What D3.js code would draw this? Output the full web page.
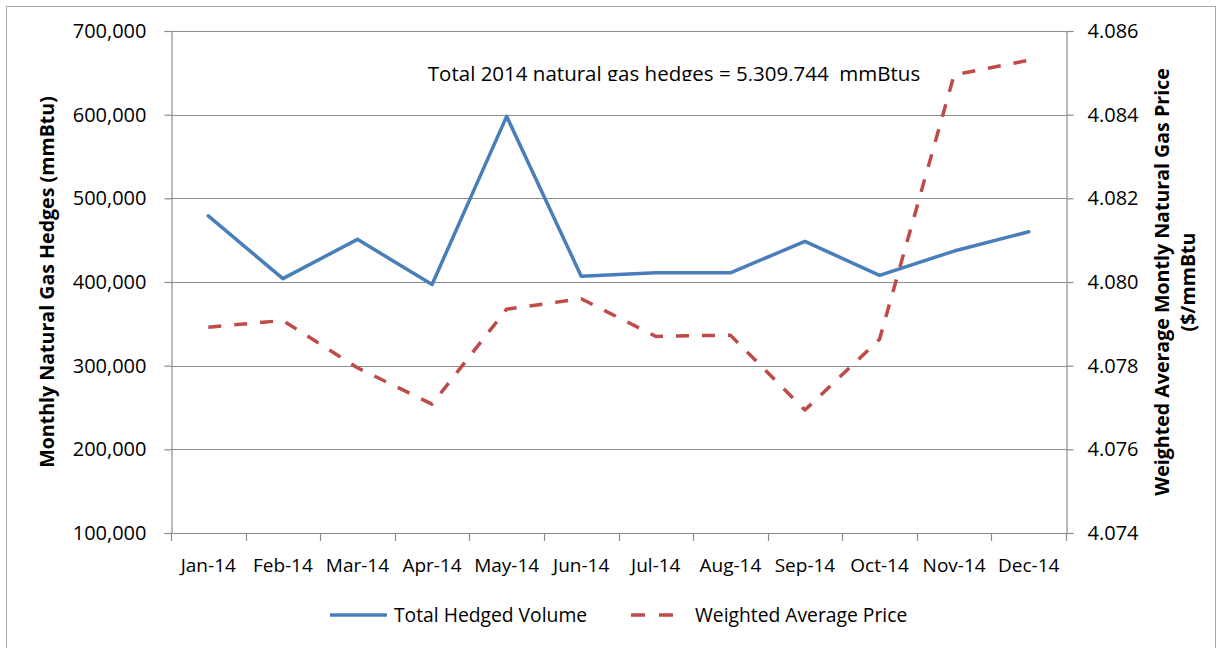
<!DOCTYPE html>
<html>
<head>
<meta charset="utf-8">
<script src="https://cdn.jsdelivr.net/npm/d3@7"></script>
<style>
  html, body { margin: 0; padding: 0; background: #fff; }
  svg { display: block; }
  text { font-family: "Open Sans", "Noto Sans", sans-serif; fill: #000; }
</style>
</head>
<body>
<svg id="chart" width="1225" height="648"></svg>
<script>
// ---- data ----
const months = ["Jan-14","Feb-14","Mar-14","Apr-14","May-14","Jun-14","Jul-14","Aug-14","Sep-14","Oct-14","Nov-14","Dec-14"];
const hedgedVolume = [479000, 404000, 451000, 397000, 598000, 407000, 411000, 411000, 448500, 408000, 437000, 460000];
const avgPrice = [4.07892, 4.07908, 4.07795, 4.07708, 4.07935, 4.07960, 4.07870, 4.07873, 4.07694, 4.07863, 4.08495, 4.08530];
const leftTicks = [100000, 200000, 300000, 400000, 500000, 600000, 700000];
const rightTicks = [4.074, 4.076, 4.078, 4.080, 4.082, 4.084, 4.086];
const seriesNames = ["Total Hedged Volume", "Weighted Average Price"];
const annotation = "Total 2014 natural gas hedges = 5,309,744  mmBtus";
const leftTitle = "Monthly Natural Gas Hedges (mmBtu)";
const rightTitleLines = ["Weighted Average Montly Natural Gas Price", "($/mmBtu"];

// ---- layout ----
const svg = d3.select("#chart");
const plot = { left: 171, right: 1066, top: 31, bottom: 533 };
const gridColor = "#8c8c8c";
const blue = "#4a7ebb";
const red = "#be4b48";

// outer border
svg.append("rect").attr("x", 6.5).attr("y", 6.5).attr("width", 1209).attr("height", 645)
  .attr("fill", "none").attr("stroke", "#a6a6a6").attr("stroke-width", 1);

const x = d3.scaleBand().domain(months).range([plot.left, plot.right]).padding(0);
const yL = d3.scaleLinear().domain([100000, 700000]).range([plot.bottom, plot.top]);
const yR = d3.scaleLinear().domain([4.074, 4.086]).range([plot.bottom, plot.top]);
const cx = m => x(m) + x.bandwidth() / 2;

// gridlines
svg.append("g").selectAll("line").data(leftTicks).join("line")
  .attr("x1", plot.left).attr("x2", plot.right)
  .attr("y1", d => Math.round(yL(d)) + 0.5).attr("y2", d => Math.round(yL(d)) + 0.5)
  .attr("stroke", gridColor).attr("stroke-width", 1.2);

// left axis
const gL = svg.append("g").attr("transform", `translate(${plot.left + 0.5},0)`)
  .call(d3.axisLeft(yL).tickValues(leftTicks).tickFormat(d3.format(",")).tickSize(7).tickPadding(18));
gL.select(".domain").attr("stroke", gridColor).attr("stroke-width", 1.2);
gL.selectAll(".tick line").attr("stroke", gridColor).attr("stroke-width", 1.2);
gL.selectAll(".tick text").attr("font-size", 20).attr("font-family", "Open Sans").attr("fill", "#000");

// right axis
const gR = svg.append("g").attr("transform", `translate(${plot.right + 0.5},0)`)
  .call(d3.axisRight(yR).tickValues(rightTicks).tickFormat(d3.format(".3f")).tickSize(7).tickPadding(14));
gR.select(".domain").attr("stroke", gridColor).attr("stroke-width", 1.2);
gR.selectAll(".tick line").attr("stroke", gridColor).attr("stroke-width", 1.2);
gR.selectAll(".tick text").attr("font-size", 20).attr("font-family", "Open Sans").attr("fill", "#000");

// bottom axis (ticks at category boundaries)
const gB = svg.append("g").attr("transform", `translate(0,${plot.bottom + 0.5})`)
  .call(d3.axisBottom(x).tickSize(0).tickPadding(25));
gB.select(".domain").remove();
gB.selectAll(".tick text").attr("font-size", 19).attr("font-family", "Open Sans").attr("fill", "#000");
svg.append("line").attr("x1", plot.left).attr("x2", plot.right + 1)
  .attr("y1", plot.bottom + 0.5).attr("y2", plot.bottom + 0.5)
  .attr("stroke", gridColor).attr("stroke-width", 1.2);
const edges = months.map(m => x(m)).concat([x(months[months.length - 1]) + x.bandwidth()]);
svg.append("g").selectAll("line").data(edges).join("line")
  .attr("x1", d => Math.round(d) + 0.5).attr("x2", d => Math.round(d) + 0.5)
  .attr("y1", plot.bottom).attr("y2", plot.bottom + 8)
  .attr("stroke", gridColor).attr("stroke-width", 1.2);

// series lines
const lineL = d3.line().x((d, i) => cx(months[i])).y(d => yL(d));
const lineR = d3.line().x((d, i) => cx(months[i])).y(d => yR(d));
svg.append("path").datum(hedgedVolume).attr("d", lineL)
  .attr("fill", "none").attr("stroke", blue).attr("stroke-width", 3.5)
  .attr("stroke-linejoin", "round").attr("stroke-linecap", "round");
svg.append("path").datum(avgPrice).attr("d", lineR)
  .attr("fill", "none").attr("stroke", red).attr("stroke-width", 3.5)
  .attr("stroke-dasharray", "13,13").attr("stroke-linejoin", "round");

// annotation (clipped at bottom as in the source)
svg.append("clipPath").attr("id", "annClip").append("rect")
  .attr("x", 0).attr("y", 40).attr("width", 1225).attr("height", 41);
svg.append("text").attr("clip-path", "url(#annClip)")
  .attr("x", 674).attr("y", 81).attr("text-anchor", "middle")
  .style("white-space", "pre")
  .attr("font-size", 20.5).text(annotation);

// axis titles
svg.append("text").attr("transform", `translate(54,${(plot.top + plot.bottom) / 2}) rotate(-90)`)
  .attr("text-anchor", "middle").attr("font-size", 19.6).attr("font-weight", "bold").text(leftTitle);
svg.append("g").attr("transform", `translate(1169,${(plot.top + plot.bottom) / 2}) rotate(-90)`)
  .selectAll("text").data(rightTitleLines).join("text")
  .attr("x", 0).attr("y", (d, i) => i * 26)
  .attr("text-anchor", "middle").attr("font-size", 19.6).attr("font-weight", "bold").text(d => d);

// legend
const legendY = 615;
const lg = svg.append("g");
lg.append("line").attr("x1", 330).attr("x2", 387).attr("y1", legendY).attr("y2", legendY)
  .attr("stroke", blue).attr("stroke-width", 3.5);
lg.append("text").attr("x", 394).attr("y", legendY + 7).attr("font-size", 19.3).text(seriesNames[0]);
lg.append("line").attr("x1", 631).attr("x2", 673).attr("y1", legendY).attr("y2", legendY)
  .attr("stroke", red).attr("stroke-width", 3.5).attr("stroke-dasharray", "14,14");
lg.append("text").attr("x", 695).attr("y", legendY + 7).attr("font-size", 19.3).text(seriesNames[1]);
</script>
</body>
</html>
